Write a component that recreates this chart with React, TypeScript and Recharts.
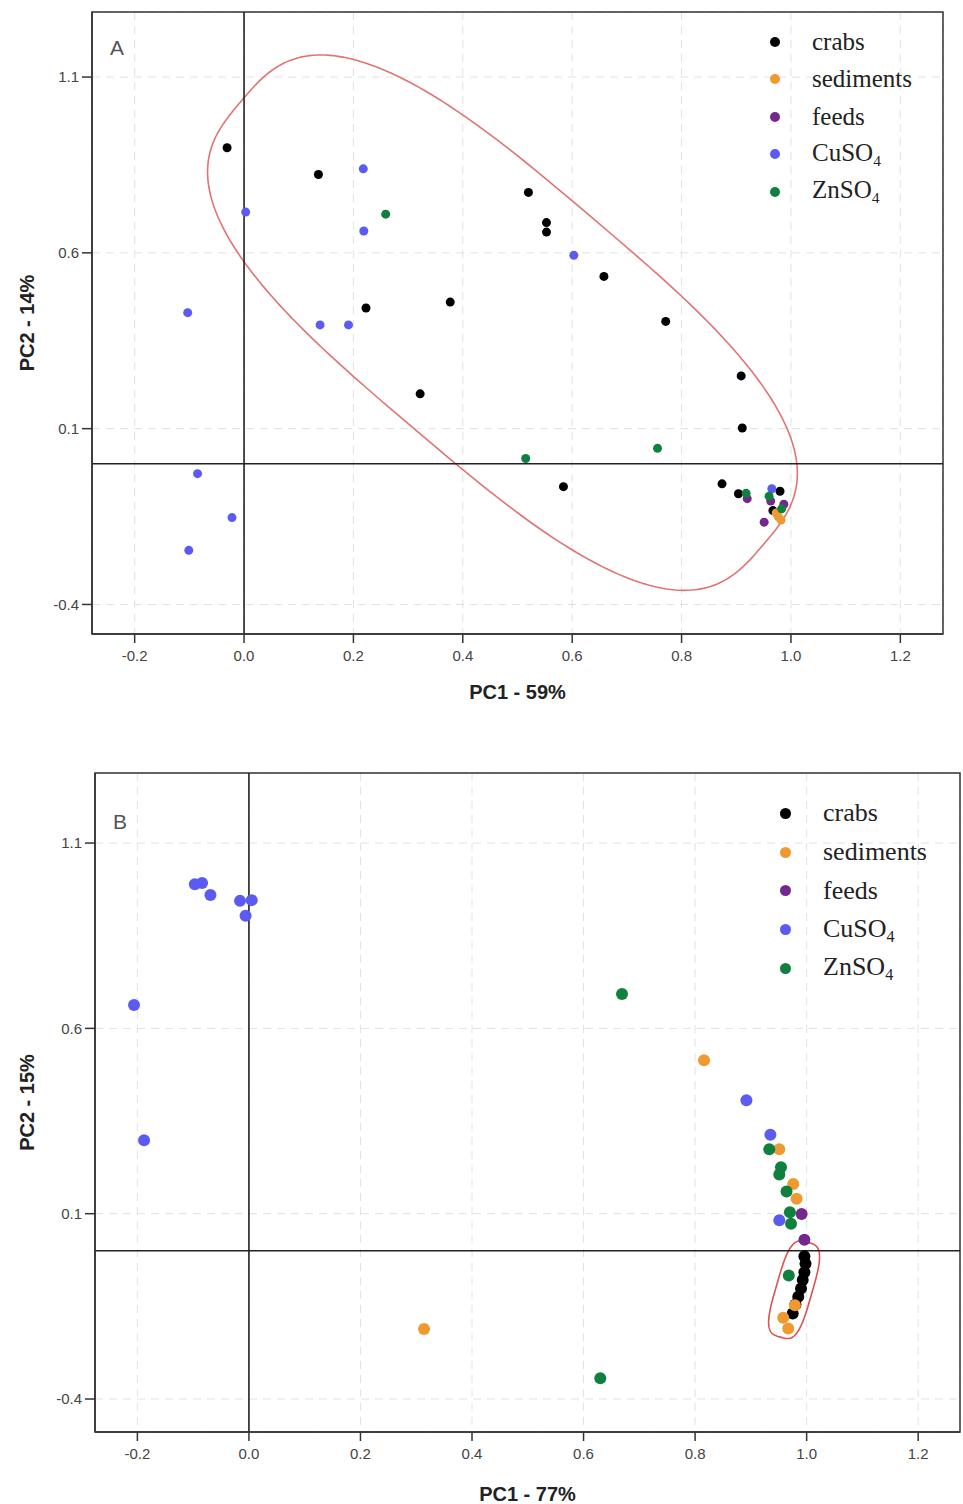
import React from 'react';
import { ScatterChart, Scatter, XAxis, YAxis, CartesianGrid, ReferenceLine, ReferenceArea, Legend } from 'recharts';

const seriesNames = ['crabs', 'sediments', 'feeds', 'CuSO4', 'ZnSO4'];
const seriesColors = ['#000000', '#EE9A30', '#72288F', '#5B5BF3', '#10803F'];

const xTicks = [-0.2, 0, 0.2, 0.4, 0.6, 0.8, 1.0, 1.2];
const yTicks = [-0.4, 0.1, 0.6, 1.1];

// Panel A  (PC1 59% / PC2 14%)
const crabsA = [
  [-0.031, 0.899], [0.136, 0.823], [0.223, 0.443], [0.377, 0.46], [0.52, 0.772], [0.553, 0.686],
  [0.553, 0.659], [0.658, 0.533], [0.771, 0.405], [0.322, 0.199], [0.909, 0.25], [0.911, 0.102],
  [0.584, -0.065], [0.874, -0.057], [0.904, -0.085], [0.98, -0.078], [0.967, -0.133],
];
const sedimentsA = [[0.973, -0.14], [0.977, -0.151], [0.982, -0.16]];
const feedsA = [[0.92, -0.099], [0.963, -0.106], [0.987, -0.115], [0.951, -0.166]];
const cuso4A = [
  [0.218, 0.839], [0.003, 0.716], [0.219, 0.662], [-0.103, 0.43], [0.139, 0.395], [0.191, 0.395],
  [0.603, 0.593], [-0.085, -0.028], [-0.022, -0.153], [-0.101, -0.246], [0.965, -0.071],
];
const znso4A = [[0.259, 0.71], [0.515, 0.015], [0.756, 0.044], [0.918, -0.084], [0.96, -0.092], [0.983, -0.128]];
// tips of the long axis of the enclosing outline
const hullA = [[-0.005, 1.032], [0.95, -0.229]];

// Panel B  (PC1 77% / PC2 15%)
const crabsB = [
  [0.996, -0.015], [0.998, -0.035], [0.996, -0.058], [0.993, -0.079], [0.99, -0.102],
  [0.985, -0.124], [0.98, -0.145], [0.975, -0.169],
];
const sedimentsB = [
  [0.314, -0.211], [0.816, 0.514], [0.951, 0.274], [0.976, 0.18], [0.982, 0.14],
  [0.979, -0.147], [0.958, -0.181], [0.967, -0.21],
];
const feedsB = [[0.991, 0.099], [0.996, 0.03]];
const cuso4B = [
  [-0.097, 0.989], [-0.084, 0.992], [-0.069, 0.96], [-0.016, 0.944], [0.005, 0.946], [-0.006, 0.904],
  [-0.206, 0.663], [-0.188, 0.298], [0.892, 0.406], [0.935, 0.313], [0.951, 0.082],
];
const znso4B = [
  [0.669, 0.693], [0.63, -0.344], [0.933, 0.274], [0.954, 0.225], [0.951, 0.206], [0.964, 0.16],
  [0.97, 0.104], [0.972, 0.073], [0.968, -0.067],
];
const hullB = [[1.002, 0.023], [0.953, -0.233]];

const toPoints = (arr: number[][]) => arr.map(([x, y]) => ({ x, y }));

const fmtName = (n: string) =>
  /\d$/.test(n) ? (
    <>
      {n.slice(0, -1)}
      <sub style={{ fontSize: '0.62em', verticalAlign: '-0.3em' }}>{n.slice(-1)}</sub>
    </>
  ) : (
    n
  );

// superellipse outline between two tips given in data units, mapped through the area rect
const hullShape = (tips: number[][], xDom: number[], yDom: number[], halfW: number, n: number, color: string) => (p: any) => {
  const { x, y, width, height } = p;
  const px = (v: number) => x + ((v - xDom[0]) / (xDom[1] - xDom[0])) * width;
  const py = (v: number) => y + ((yDom[1] - v) / (yDom[1] - yDom[0])) * height;
  const x1 = px(tips[0][0]), y1 = py(tips[0][1]);
  const x2 = px(tips[1][0]), y2 = py(tips[1][1]);
  const a = Math.hypot(x2 - x1, y2 - y1) / 2;
  const ux = (x2 - x1) / (2 * a), uy = (y2 - y1) / (2 * a);
  const cx = (x1 + x2) / 2, cy = (y1 + y2) / 2;
  const pts: string[] = [];
  for (let k = 0; k < 240; k++) {
    const t = (k / 240) * Math.PI * 2;
    const c = Math.cos(t), s = Math.sin(t);
    const u = a * Math.sign(c) * Math.pow(Math.abs(c), 2 / n);
    const v = halfW * Math.sign(s) * Math.pow(Math.abs(s), 2 / n);
    pts.push(`${(cx + u * ux - v * uy).toFixed(2)},${(cy + u * uy + v * ux).toFixed(2)}`);
  }
  return <path d={`M${pts.join('L')}Z`} fill="none" stroke={color} strokeWidth={1.6} />;
};

function Panel(props: any) {
  const { top, width, height, margin, yAxisWidth, xAxisHeight, xDom, yDom, series, hull, hullW, hullN, hullColor,
    dotR, xLabel, yLabel, xLabelOffset, letter, letterPos, legend } = props;
  const tickStyle = { fill: '#444', fontSize: 15, fontFamily: '"Liberation Sans", Arial, sans-serif' };
  const titleStyle = { fontWeight: 'bold', fontSize: 20, fill: '#222', fontFamily: '"Liberation Sans", Arial, sans-serif' };
  return (
    <div style={{ position: 'absolute', left: 0, top, width, height }}>
      <ScatterChart width={width} height={height} margin={margin}>
        <CartesianGrid stroke="#e2e2e2" strokeDasharray="8 6" />
        <XAxis
          type="number" dataKey="x" domain={xDom} ticks={xTicks} allowDataOverflow height={xAxisHeight}
          tickFormatter={(v: number) => v.toFixed(1)} tick={tickStyle} tickSize={9} tickMargin={7}
          stroke="#333" axisLine={{ stroke: '#333', strokeWidth: 1.5 }} tickLine={{ stroke: '#333', strokeWidth: 1.5 }}
          label={{ value: xLabel, position: 'insideBottom', offset: xLabelOffset, style: titleStyle }}
        />
        <YAxis
          type="number" dataKey="y" domain={yDom} ticks={yTicks} allowDataOverflow width={yAxisWidth}
          tickFormatter={(v: number) => String(v)} tick={tickStyle} tickSize={10} tickMargin={3}
          axisLine={{ stroke: '#333', strokeWidth: 1.5 }} tickLine={{ stroke: '#333', strokeWidth: 1.5 }}
          label={{ value: yLabel, angle: -90, position: 'insideLeft', offset: 27, style: { ...titleStyle, textAnchor: 'middle' } }}
        />
        <ReferenceArea x1={xDom[0]} x2={xDom[1]} y1={yDom[0]} y2={yDom[1]} fill="none" stroke="#333" strokeWidth={1.5} fillOpacity={0} />
        <ReferenceLine x={0} stroke="#222" strokeWidth={1.6} />
        <ReferenceLine y={0} stroke="#222" strokeWidth={1.6} />
        {series.map((s: number[][], i: number) => (
          <Scatter
            key={seriesNames[i]} name={seriesNames[i]} data={toPoints(s)} fill={seriesColors[i]} isAnimationActive={false}
            shape={(p: any) => <circle cx={p.cx} cy={p.cy} r={dotR} fill={seriesColors[i]} />}
          />
        ))}
        <ReferenceArea
          x1={xDom[0]} x2={xDom[1]} y1={yDom[0]} y2={yDom[1]} fill="none"
          shape={hullShape(hull, xDom, yDom, hullW, hullN, hullColor)}
        />
        <Legend
          layout="vertical" align="center" verticalAlign="middle"
          wrapperStyle={{ top: legend.top, left: legend.left, width: 200, height: 'auto' }}
          content={() => (
            <div style={{ fontFamily: '"Liberation Serif", "Times New Roman", serif', fontSize: legend.fontSize, color: '#222' }}>
              {seriesNames.map((n, i) => (
                <div key={n} style={{ display: 'flex', alignItems: 'center', height: legend.rowH }}>
                  <span style={{ display: 'inline-block', width: legend.dot * 2, height: legend.dot * 2, borderRadius: '50%', background: seriesColors[i], marginRight: legend.gap }} />
                  <span>{fmtName(n)}</span>
                </div>
              ))}
            </div>
          )}
        />
      </ScatterChart>
      <div style={{ position: 'absolute', left: letterPos[0], top: letterPos[1], fontFamily: '"Liberation Sans", Arial, sans-serif', fontSize: 21, color: '#555', lineHeight: 1 }}>
        {letter}
      </div>
    </div>
  );
}

export default function App() {
  return (
    <div style={{ position: 'absolute', left: 0, top: 0, width: 963, height: 1504, background: '#fff' }}>
      <Panel
        top={0} width={963} height={720} margin={{ top: 12, right: 20, bottom: 0, left: 0 }}
        yAxisWidth={92} xAxisHeight={86} xDom={[-0.278, 1.278]} yDom={[-0.484, 1.285]}
        series={[crabsA, sedimentsA, feedsA, cuso4A, znso4A]}
        hull={hullA} hullW={138} hullN={3} hullColor="#E07474" dotR={4.5}
        xLabel="PC1 - 59%" yLabel="PC2 - 14%" xLabelOffset={21}
        letter="A" letterPos={[110, 37]}
        legend={{ top: 23, left: 770, fontSize: 25, rowH: 37.5, dot: 5, gap: 32 }}
      />
      <Panel
        top={740} width={963} height={764} margin={{ top: 33, right: 3, bottom: 0, left: 0 }}
        yAxisWidth={95} xAxisHeight={72} xDom={[-0.276, 1.275]} yDom={[-0.489, 1.289]}
        series={[crabsB, sedimentsB, feedsB, cuso4B, znso4B]}
        hull={hullB} hullW={18} hullN={3.5} hullColor="#D9534F" dotR={6}
        xLabel="PC1 - 77%" yLabel="PC2 - 15%" xLabelOffset={3}
        letter="B" letterPos={[113, 71]}
        legend={{ top: 54, left: 780, fontSize: 26, rowH: 38.75, dot: 5.5, gap: 32 }}
      />
    </div>
  );
}
